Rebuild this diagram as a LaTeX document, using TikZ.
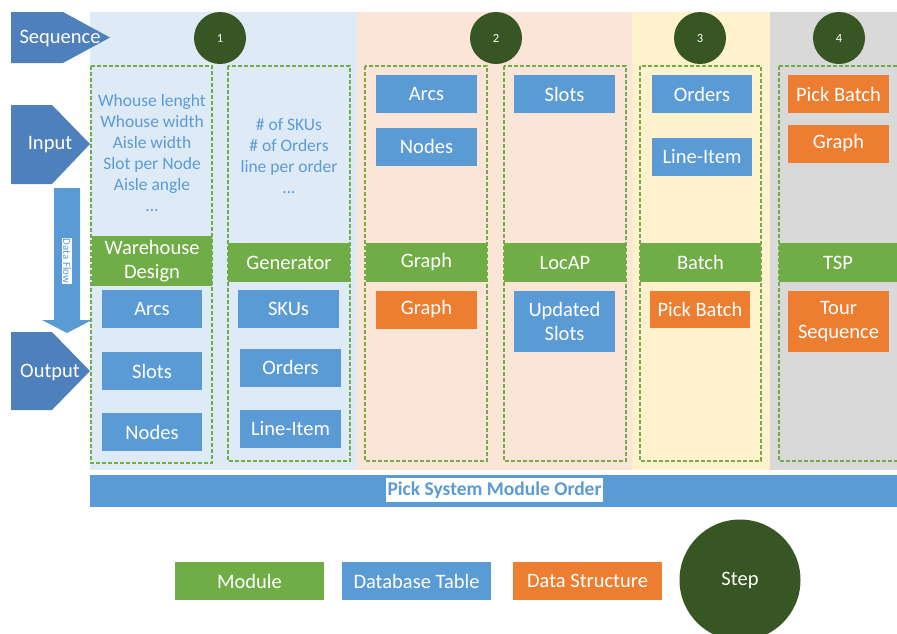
\documentclass[tikz,border=0pt]{standalone}
\usepackage{fontspec}
\setmainfont{Carlito}
\definecolor{arrowblue}{HTML}{4E80BC}
\definecolor{tableblue}{HTML}{5B9BD5}
\definecolor{modgreen}{HTML}{70AD47}
\definecolor{structorange}{HTML}{ED7D31}
\definecolor{stepgreen}{HTML}{375623}
\definecolor{bgblue}{HTML}{DEEBF7}
\definecolor{bgpeach}{HTML}{FBE5D6}
\definecolor{bgyellow}{HTML}{FFF2CC}
\definecolor{bggray}{HTML}{D9D9D9}
\tikzset{
  boxtext/.style={font=\fontsize{20.5}{24.5}\selectfont, text=white, align=center, inner sep=0pt},
  dbtable/.style={boxtext, fill=tableblue, minimum width=101pt, minimum height=38pt},
  dstruct/.style={boxtext, fill=structorange, minimum width=101pt, minimum height=38pt},
  module/.style={boxtext, fill=modgreen, minimum width=121pt, minimum height=39pt},
  stepdot/.style={circle, fill=stepgreen, text=white, minimum size=52pt, inner sep=0pt, font=\fontsize{12.5}{14}\selectfont},
  groupbox/.style={draw=modgreen, line width=2pt, dash pattern=on 4pt off 2pt},
  bigarrow/.style={fill=arrowblue},
  arrowlabel/.style={text=white, font=\fontsize{20.5}{24.5}\selectfont, inner sep=0pt},
  paramtext/.style={text=tableblue, font=\fontsize{17.5}{21}\selectfont, align=center, inner sep=0pt},
}
\begin{document}
\begin{tikzpicture}[x=1pt,y=-1pt]
\useasboundingbox (0,0) rectangle (897,633);
\clip (0,0) rectangle (897,633);

% column backgrounds
\fill[bgblue]   (90,12)  rectangle (357,470);
\fill[bgpeach]  (357,12) rectangle (632,470);
\fill[bgyellow] (632,12) rectangle (770,470);
\fill[bggray]   (770,12) rectangle (897,470);

% row arrows
\fill[bigarrow] (11,12) -- (63,12) -- (110,37.5) -- (63,63) -- (11,63) -- cycle;
\node[arrowlabel] (seq) at (60,38) {Sequence};
\fill[bigarrow] (11,105) -- (52,105) -- (90,144) -- (52,184) -- (11,184) -- cycle;
\node[arrowlabel] (inp) at (50,145) {Input};
\fill[bigarrow] (11,332) -- (52,332) -- (90,371) -- (52,410) -- (11,410) -- cycle;
\node[arrowlabel] (outp) at (50,372) {Output};

% data flow arrow
\fill[tableblue] (54,188) -- (80,188) -- (80,320) -- (92,320) -- (67,333) -- (42,320) -- (54,320) -- cycle;
\node[fill=white, text=tableblue, rotate=-90, inner sep=1pt, font=\fontsize{11}{12}\selectfont] (flow) at (67,261) {Data Flow};

% steps
\node[stepdot] (s1) at (220,38) {1};
\node[stepdot] (s2) at (496,38) {2};
\node[stepdot] (s3) at (700,38) {3};
\node[stepdot] (s4) at (839,38) {4};

% module groups
\draw[groupbox] (91,66)  rectangle (212,463);
\draw[groupbox] (228,66) rectangle (350,461);
\draw[groupbox] (365,66) rectangle (487,461);
\draw[groupbox] (504,66) rectangle (626,461);
\draw[groupbox] (640,66) rectangle (761,461);
\draw[groupbox] (779,66) rectangle (902,461);

% step 1: warehouse design
\node[paramtext] (whp) at (152,153) {Whouse lenght\\Whouse width\\Aisle width\\Slot per Node\\Aisle angle\\...};
\node[module, minimum width=120pt, minimum height=50pt, font=\fontsize{20.5}{24}\selectfont] (wd) at (152,261) {Warehouse\\Design};
\node[dbtable, minimum width=100pt] (wdarcs)  at (152,309) {Arcs};
\node[dbtable, minimum width=100pt] (wdslots) at (152,371) {Slots};
\node[dbtable, minimum width=100pt] (wdnodes) at (152,432) {Nodes};

% step 1: generator
\node[paramtext] (genp) at (289,156) {\# of SKUs\\\# of Orders\\line per order\\...};
\node[module, minimum width=122pt] (gen) at (289,262.5) {Generator};
\node[dbtable] (gskus)  at (288.5,309)   {SKUs};
\node[dbtable] (gord)   at (290.5,367.5) {Orders};
\node[dbtable] (gline)  at (290.5,429)   {Line-Item};

% step 2: graph
\node[dbtable] (grarcs)  at (426.5,94)    {Arcs};
\node[dbtable] (grnodes) at (426.5,146.5) {Nodes};
\node[module] (graph) at (426.5,262.5) {Graph};
\node[dstruct] (grout) at (426.5,309.5) {Graph};

% step 2: location assignment
\node[dbtable] (lslots) at (564.5,94) {Slots};
\node[module, minimum width=122pt] (locap) at (565,262.5) {LocAP};
\node[dbtable, minimum height=61pt] (lout) at (564.5,321.5) {Updated\\Slots};

% step 3: batching
\node[dbtable, minimum width=100pt] (bord)  at (702,94)    {Orders};
\node[dbtable, minimum width=100pt] (bline) at (702,156.5) {Line-Item};
\node[module] (batch) at (700.5,262.5) {Batch};
\node[dstruct, minimum width=100pt, minimum height=37pt] (bout) at (700,309) {Pick Batch};

% step 4: routing
\node[dstruct] (tpb) at (838.5,94)    {Pick Batch};
\node[dstruct] (tgr) at (838.5,143.5) {Graph};
\node[module, minimum width=118pt] (tsp) at (838,262.5) {TSP};
\node[dstruct, minimum height=61pt] (tout) at (838.5,321.5) {Tour\\Sequence};

% order bar
\fill[tableblue] (90,475) rectangle (897,507);
\node[fill=white, text=tableblue, inner xsep=2pt, inner ysep=2pt, minimum height=24pt, font=\fontsize{19.5}{23}\selectfont\bfseries] (order) at (494.5,490) {Pick System Module Order};

% legend
\node[module, minimum width=149pt, minimum height=38pt] (lgmod) at (249.5,581) {Module};
\node[dbtable, minimum width=149pt] (lgtab) at (416.5,581) {Database Table};
\node[dstruct, minimum width=149pt] (lgstr) at (587.5,581) {Data Structure};
\node[stepdot, minimum size=121pt, font=\fontsize{20.5}{24.5}\selectfont] (lgstep) at (740,580) {Step};
\end{tikzpicture}
\end{document}
